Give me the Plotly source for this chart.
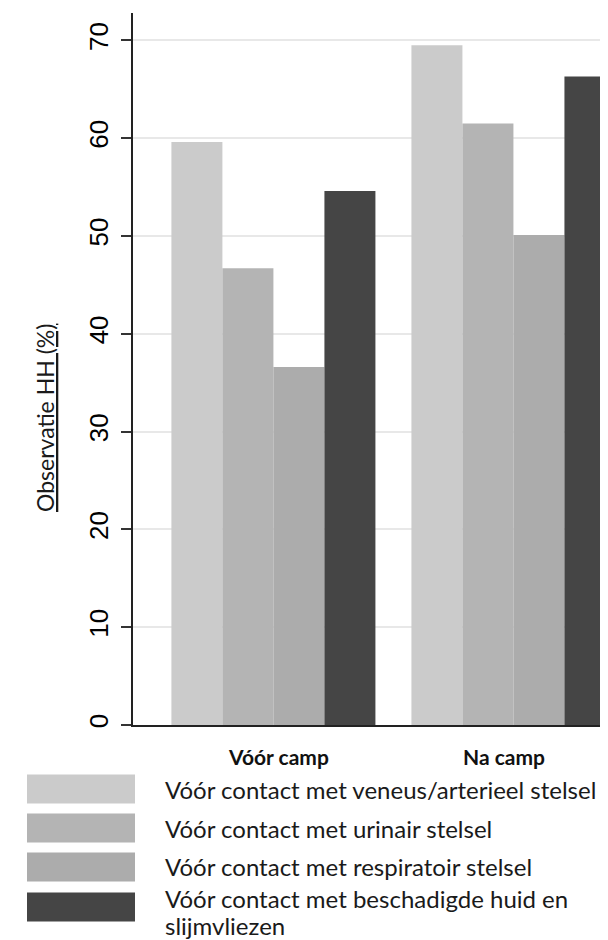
import plotly.graph_objects as go

# ---- data ----
categories = ["Vóór camp", "Na camp"]
series_names = [
    "Vóór contact met veneus/arterieel stelsel",
    "Vóór contact met urinair stelsel",
    "Vóór contact met respiratoir stelsel",
    "Vóór contact met beschadigde huid en<br>slijmvliezen",
]
veneus_arterieel = [59.6, 69.5]
urinair = [46.7, 61.5]
respiratoir = [36.6, 50.1]
beschadigde_huid = [54.6, 66.3]
y_ticks = [0, 10, 20, 30, 40, 50, 60, 70]
y_title = "Observatie HH (%)"

series_values = [veneus_arterieel, urinair, respiratoir, beschadigde_huid]
colors = ["#cbcbcb", "#b4b4b4", "#acacac", "#454545"]

# ---- layout geometry (reference window pixels; page body has 8px margin) ----
OFF = 8
W, H = 608 - OFF, 940 - OFF
L, R, T, B = 133, 608, 13, 725
pw, ph = R - L, B - T


def px_x(px):
    return (px - L) / pw


def px_y(py):
    return (B - py) / ph


text_font = "Lato, 'Noto Sans', sans-serif"

fig = go.Figure()
for name, vals, col in zip(series_names, series_values, colors):
    fig.add_trace(go.Bar(
        x=categories, y=vals, name=name.replace("<br>", " "),
        marker=dict(color=col, line=dict(width=0)),
        showlegend=False,
    ))

# category labels
cat_label_x = [278, 504]
for cat, cx in zip(categories, cat_label_x):
    fig.add_annotation(xref="paper", yref="paper", x=px_x(cx), y=px_y(756),
                       text="<b>" + cat + "</b>", showarrow=False,
                       xanchor="center", yanchor="middle",
                       font=dict(family=text_font, size=21, color="#111"))

# legend drawn manually (large swatches)
sw_centers = [789, 828, 867, 907]
txt_centers = [789, 828, 866, 898]
line_gap = 27
for i, (name, col) in enumerate(zip(series_names, colors)):
    fig.add_shape(type="rect", xref="paper", yref="paper",
                  x0=px_x(27), x1=px_x(135),
                  y0=px_y(sw_centers[i] + 14.5), y1=px_y(sw_centers[i] - 14.5),
                  fillcolor=col, line=dict(width=0), layer="above")
    for j, line in enumerate(name.split("<br>")):
        fig.add_annotation(xref="paper", yref="paper", x=px_x(163),
                           y=px_y(txt_centers[i] + j * line_gap),
                           xanchor="left", yanchor="middle",
                           text=line, showarrow=False, align="left",
                           font=dict(family=text_font, size=24, color="#1a1a1a"))

fig.add_annotation(xref="paper", yref="paper", x=px_x(45), y=px_y(418),
                   xanchor="center", yanchor="middle",
                   text="<u>" + y_title + "</u>", textangle=-90, showarrow=False,
                   font=dict(family=text_font, size=23, color="#1a1a1a"))

fig.update_layout(
    width=W, height=H,
    margin=dict(l=L - OFF, r=0, t=T - OFF, b=(940 - B), pad=0),
    plot_bgcolor="white", paper_bgcolor="white",
    barmode="group", bargap=0.15, bargroupgap=0,
    showlegend=False,
    xaxis=dict(
        type="category", range=[-0.585, 1.394],
        showline=True, linecolor="#222", linewidth=2,
        ticks="", showgrid=False, zeroline=False, showticklabels=False,
    ),
    yaxis=dict(
        range=[0, 72.8], tickvals=y_ticks, tickangle=-90,
        ticks="outside", ticklen=10, tickwidth=1.5, tickcolor="#333",
        showline=True, linecolor="#222", linewidth=2,
        showgrid=True, gridcolor="#e8e8e8", gridwidth=1.5,
        zeroline=False,
        tickfont=dict(family="'Liberation Sans', Arial, sans-serif", size=26, color="#000"),
        ticklabelstandoff=3,
    ),
)

fig.write_html("out.html")
